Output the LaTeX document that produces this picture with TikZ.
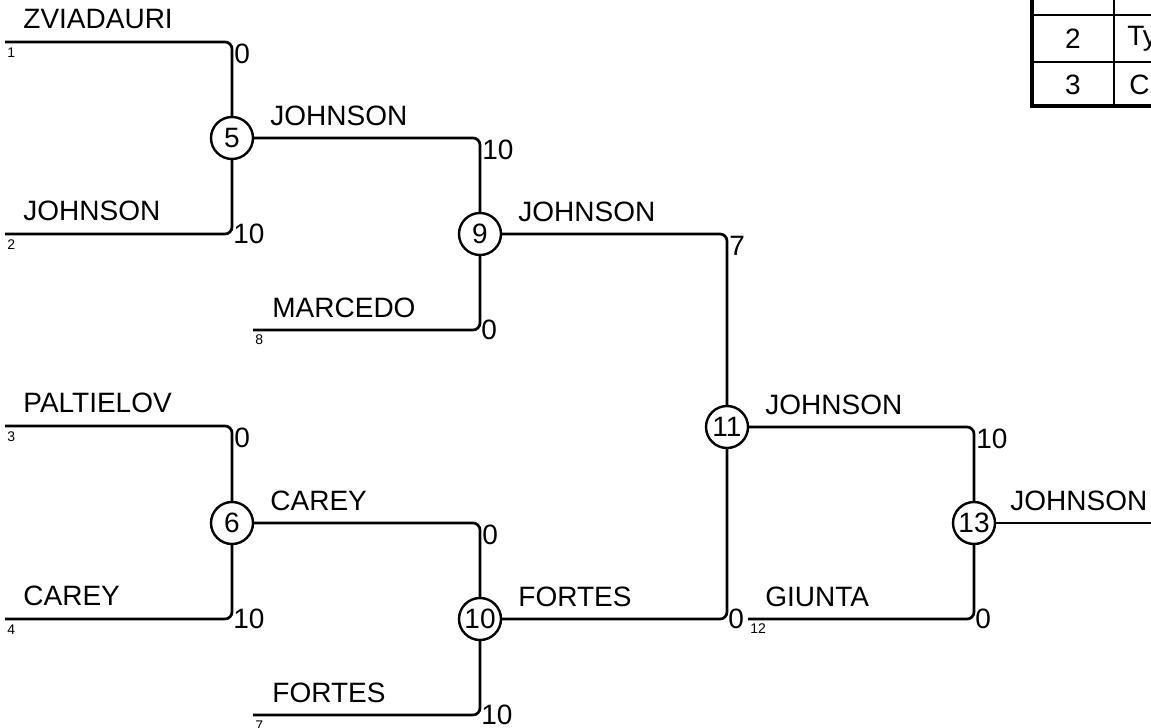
\documentclass[tikz,border=0pt]{standalone}
\usepackage{fontspec}
\setmainfont{Liberation Sans}
\usetikzlibrary{calc}
\def\bigfont{\fontsize{14}{16}\selectfont}
\tikzset{
	match/.style={circle, draw, line width=1.2pt, minimum size=21pt, inner sep=0pt, font=\bigfont},
	bracket/.style={line width=1.35pt, rounded corners=3.5pt},
	player/.style={anchor=base west, inner sep=0pt, font=\bigfont},
	score/.style={anchor=west, inner sep=0.5pt, font=\bigfont},
	seed/.style={anchor=north west, inner sep=0pt, font=\fontsize{7}{8}\selectfont},
	cell/.style={inner sep=0pt, font=\bigfont}
}

\begin{document}
\begin{tikzpicture}[x=0.5pt, y=-0.5pt]
			%%%%% START %%%%%
			\clip (0, 0) rectangle (1151, 728);
			
			\node[match] (m5) at (232, 138) {5};
			\node[match] (m6) at (232, 523) {6};
			\node[match] (m9) at (480, 234) {9};
			\node[match] (m10) at (480, 619) {10};
			\node[match] (m11) at (727, 427) {11};
			\node[match] (m13) at (974, 523) {13};
			
			\coordinate (s1) at (5, 42);
			\coordinate (s2) at (5, 234);
			\coordinate (s3) at (5, 426);
			\coordinate (s4) at (5, 619);
			\coordinate (s8) at (253, 330);
			\coordinate (s7) at (253, 715);
			\coordinate (s12) at (748, 619);
			\coordinate (w) at (1160, 523);
			
			\draw[bracket] (s1) -| (m5);
			\draw[bracket] (s2) -| (m5);
			\draw[bracket] (s3) -| (m6);
			\draw[bracket] (s4) -| (m6);
			\draw[bracket] (m5) -| (m9);
			\draw[bracket] (s8) -| (m9);
			\draw[bracket] (m6) -| (m10);
			\draw[bracket] (s7) -| (m10);
			\draw[bracket] (m9) -| (m11);
			\draw[bracket] (m10) -| (m11);
			\draw[bracket] (m11) -| (m13);
			\draw[bracket] (s12) -| (m13);
			\draw[bracket] (m13) -- (w);
			
			\node[player] (n1) at ($(s1)+(18,-14)$) {ZVIADAURI};
			\node[player] (n2) at ($(s2)+(18,-14)$) {JOHNSON};
			\node[player] (n3) at ($(s3)+(18,-14)$) {PALTIELOV};
			\node[player] (n4) at ($(s4)+(18,-14)$) {CAREY};
			\node[player] (n5) at ($(m5)+(38,-13)$) {JOHNSON};
			\node[player] (n8) at ($(s8)+(19,-13)$) {MARCEDO};
			\node[player] (n6) at ($(m6)+(38,-13)$) {CAREY};
			\node[player] (n7) at ($(s7)+(19,-13)$) {FORTES};
			\node[player] (n9) at ($(m9)+(38,-13)$) {JOHNSON};
			\node[player] (n10) at ($(m10)+(38,-13)$) {FORTES};
			\node[player] (n11) at ($(m11)+(38,-13)$) {JOHNSON};
			\node[player] (n12) at ($(s12)+(17,-13)$) {GIUNTA};
			\node[player] (n13) at ($(m13)+(36,-13)$) {JOHNSON};
			
			\node[score] (r1) at ($(m5 |- s1)+(1,12)$) {0};
			\node[score] (r2) at (m5 |- s2) {10};
			\node[score] (r3) at ($(m6 |- s3)+(1,12)$) {0};
			\node[score] (r4) at (m6 |- s4) {10};
			\node[score] (r5) at ($(m9 |- m5)+(1,12)$) {10};
			\node[score] (r8) at (m9 |- s8) {0};
			\node[score] (r6) at ($(m10 |- m6)+(1,12)$) {0};
			\node[score] (r7) at (m10 |- s7) {10};
			\node[score] (r9) at ($(m11 |- m9)+(1,12)$) {7};
			\node[score] (r10) at (m11 |- m10) {0};
			\node[score] (r11) at ($(m13 |- m11)+(1,12)$) {10};
			\node[score] (r12) at (m13 |- s12) {0};
			
			\node[seed] (k1) at ($(s1)+(2,5)$) {1};
			\node[seed] (k2) at ($(s2)+(2,5)$) {2};
			\node[seed] (k3) at ($(s3)+(2,5)$) {3};
			\node[seed] (k4) at ($(s4)+(2,5)$) {4};
			\node[seed] (k8) at ($(s8)+(2,4)$) {8};
			\node[seed] (k7) at ($(s7)+(2,5)$) {7};
			\node[seed] (k12) at ($(s12)+(2,4)$) {12};
			
			% table
			\draw[line width=1pt] (1032, 15) -- (1160, 15);
			\draw[line width=1pt] (1032, 62) -- (1160, 62);
			\draw[line width=1pt] (1114, -5) -- (1114, 106);
			\draw[line width=2.3pt] (1032, -5) -- (1032, 106) -- (1160, 106);
			\node[cell] (t1) at (1073, -11) {1};
			\node[cell] (t2) at (1073, 39) {2};
			\node[cell] (t3) at (1073, 85) {3};
			\node[cell, anchor=west] (u1) at (1128, -11) {C};
			\node[cell, anchor=west] (u2) at (1127, 39) {Ty};
			\node[cell, anchor=west] (u3) at (1129, 85) {C};
			
			%%%%% END %%%%%
		\end{tikzpicture}
\end{document}
